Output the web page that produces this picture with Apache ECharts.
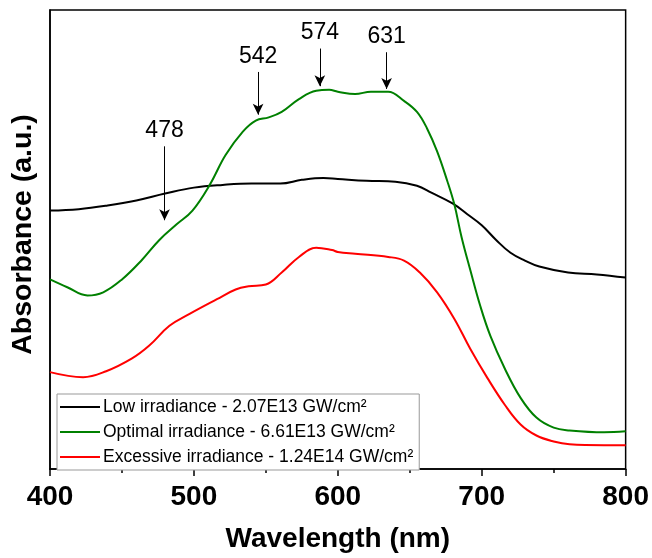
<!DOCTYPE html>
<html>
<head>
<meta charset="utf-8">
<script src="https://cdn.jsdelivr.net/npm/echarts@6/dist/echarts.min.js"></script>
<style>
html,body{margin:0;padding:0;background:#fff;}
#chart{width:652px;height:558px;}
</style>
</head>
<body>
<div id="chart"></div>
<script>
// Wavelength (nm) / absorbance (a.u.) readings
const lowWl = [400,420,440,460,480,500,520,540,560,575,590,600,620,640,655,665,680,690,700,710,720,730,740,760,780,800];
const lowAbs = [0.563,0.566,0.574,0.585,0.600,0.613,0.619,0.622,0.622,0.630,0.634,0.632,0.628,0.626,0.617,0.602,0.578,0.555,0.531,0.499,0.471,0.454,0.441,0.428,0.424,0.417];

const optWl = [400,412,426,437,450,464,476,488,499,511,522,534,543,552,561,573,585,594,600,612,623,635,646,655,662,669,676,681,686,692,699,706,716,727,738,750,761,785,800];
const optAbs = [0.413,0.396,0.378,0.385,0.413,0.456,0.499,0.533,0.563,0.619,0.684,0.735,0.759,0.766,0.778,0.806,0.824,0.826,0.822,0.817,0.822,0.822,0.802,0.778,0.742,0.692,0.628,0.576,0.505,0.434,0.355,0.290,0.219,0.155,0.112,0.090,0.084,0.080,0.082];

const excWl = [400,423,439,457,469,483,497,516,529,538,550,561,573,585,596,600,612,635,646,657,669,681,692,704,716,727,738,750,761,785,800];
const excAbs = [0.211,0.200,0.213,0.241,0.269,0.312,0.338,0.370,0.391,0.398,0.402,0.428,0.462,0.482,0.477,0.473,0.469,0.462,0.454,0.428,0.385,0.327,0.262,0.198,0.140,0.097,0.073,0.060,0.054,0.052,0.052];

const seriesNames = ['Low irradiance - 2.07E13 GW/cm²','Optimal irradiance - 6.61E13 GW/cm²','Excessive irradiance - 1.24E14 GW/cm²'];

// Peak annotations
const peakLabels = ['478','542','574','631'];
const peakArrowWl = [479.6,544.6,587.5,633.9];
const peakArrowTop = [0.703,0.865,0.916,0.908];
const peakArrowTip = [0.542,0.772,0.834,0.828];

const xTicks = {min:400,max:800,interval:100};

const FONT = 'Arial, "Liberation Sans", Helvetica, sans-serif';
function pairs(xs, ys){ return xs.map((x,i)=>[x,ys[i]]); }

const chart = echarts.init(document.getElementById('chart'), null, {renderer:'canvas'});
const option = {
  animation:false,
  backgroundColor:'#fff',
  grid:{left:50,right:24,top:10,bottom:83,show:true,borderColor:'#000',borderWidth:1.5,backgroundColor:'transparent'},
  xAxis:{
    type:'value',min:xTicks.min,max:xTicks.max,interval:xTicks.interval,
    name:'Wavelength (nm)',nameLocation:'middle',nameGap:56,
    nameTextStyle:{fontFamily:FONT,fontWeight:'bold',fontSize:28,color:'#000'},
    axisLine:{show:true,lineStyle:{color:'#000',width:1.5}},
    axisTick:{show:true,length:7,lineStyle:{color:'#000',width:1.5}},
    minorTick:{show:true,splitNumber:2,length:4,lineStyle:{color:'#000',width:1.5}},
    axisLabel:{fontFamily:FONT,fontWeight:'bold',fontSize:28,color:'#000',margin:14},
    splitLine:{show:false}
  },
  yAxis:{
    type:'value',min:0,max:1,
    name:'Absorbance (a.u.)',nameLocation:'middle',nameGap:12,
    nameTextStyle:{fontFamily:FONT,fontWeight:'bold',fontSize:28.5,color:'#000',padding:[0,0,0,10]},
    axisLine:{show:true,lineStyle:{color:'#000',width:1.5}},
    axisTick:{show:false},axisLabel:{show:false},splitLine:{show:false}
  },
  legend:{
    orient:'vertical',left:57,top:394,
    data:seriesNames,
    itemWidth:40,itemHeight:12,itemGap:7,
    padding:[4,6,4,3],
    borderColor:'#999',borderWidth:1,backgroundColor:'#fff',
    icon:'path://M0,0 L40,0 L40,2 L0,2 Z',
    textStyle:{fontFamily:FONT,fontSize:17.5,color:'#000',lineHeight:17,padding:[0,0,0,-2]}
  },
  series:[
    {
      name:seriesNames[0],type:'line',data:pairs(lowWl,lowAbs),smooth:0.4,showSymbol:false,
      lineStyle:{color:'#000',width:2},itemStyle:{color:'#000'},
      markLine:{
        silent:true,symbol:['none','arrow'],symbolSize:[8,11],
        lineStyle:{color:'#000',width:1,type:'solid'},
        label:{show:true,position:'start',distance:4,fontFamily:FONT,fontSize:23,color:'#000',formatter:p=>p.name},
        data:peakLabels.map((t,i)=>[{name:t,coord:[peakArrowWl[i],peakArrowTop[i]]},{coord:[peakArrowWl[i],peakArrowTip[i]]}])
      }
    },
    {name:seriesNames[1],type:'line',data:pairs(optWl,optAbs),smooth:0.4,showSymbol:false,
      lineStyle:{color:'#008000',width:2},itemStyle:{color:'#008000'}},
    {name:seriesNames[2],type:'line',data:pairs(excWl,excAbs),smooth:0.4,showSymbol:false,
      lineStyle:{color:'#ff0000',width:2},itemStyle:{color:'#ff0000'}}
  ]
};
chart.setOption(option);
</script>
</body>
</html>
